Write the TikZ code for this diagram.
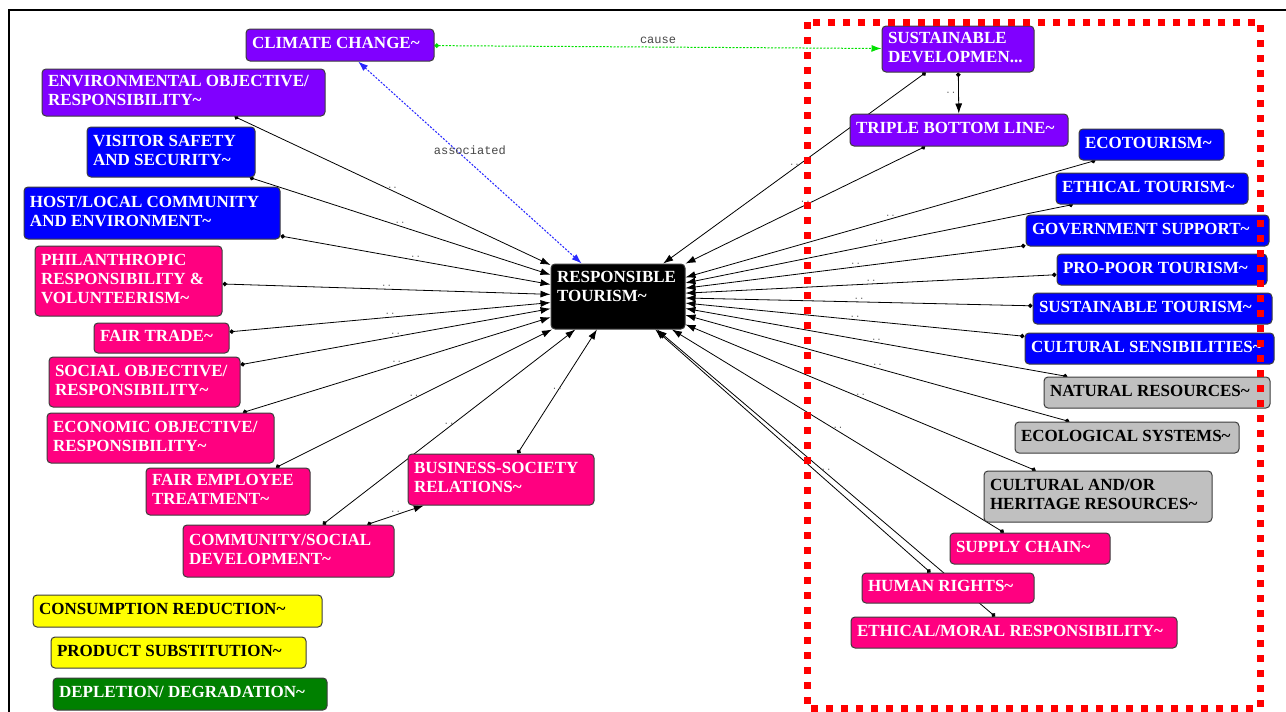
\documentclass[tikz,border=0pt]{standalone}
\usepackage{fontspec}
\setmainfont{Liberation Serif}
\setmonofont{Liberation Mono}
\usetikzlibrary{arrows.meta,backgrounds}

\definecolor{violetfill}{RGB}{128,0,255}
\definecolor{bluefill}{RGB}{0,0,255}
\definecolor{pinkfill}{RGB}{255,0,128}
\definecolor{grayfill}{RGB}{192,192,192}
\definecolor{yellowfill}{RGB}{255,255,0}
\definecolor{greenfill}{RGB}{0,128,0}
\definecolor{nodeline}{RGB}{60,60,60}
\definecolor{causegreen}{RGB}{0,225,0}
\definecolor{assocblue}{RGB}{40,40,255}
\definecolor{labelgray}{RGB}{70,70,70}
\definecolor{dotgray}{RGB}{100,100,100}

\newcommand{\tld}{\textasciitilde}
\newcommand{\boxtext}[2]{\makebox[#1][l]{\begin{tabular}{@{}l@{}}#2\end{tabular}}}

\begin{document}
\begin{tikzpicture}[x=1pt,y=-1pt,>={Latex[length=10pt,width=7pt]},
                    box/.style={draw=nodeline, line width=1pt, rounded corners=4pt,
                                inner xsep=6pt, inner ysep=0pt,
                                font=\bfseries\fontsize{17}{19}\selectfont},
                    violetbox/.style={box, fill=violetfill, text=white},
                    bluebox/.style={box, fill=bluefill, text=white},
                    pinkbox/.style={box, fill=pinkfill, text=white},
                    graybox/.style={box, fill=grayfill, text=black},
                    yellowbox/.style={box, fill=yellowfill, text=black},
                    greenbox/.style={box, fill=greenfill, text=white},
                    blackbox/.style={box, fill=black, text=white},
                    dep/.style={draw=black, line width=0.8pt, {Circle[length=4.5pt]}->},
                    lbl/.style={midway, above, inner sep=2pt, text=dotgray,
                                font=\ttfamily\fontsize{9}{9}\selectfont},
                    rel/.style={midway, above, inner sep=3pt, text=labelgray,
                                font=\ttfamily\fontsize{12}{12}\selectfont},
                    redbox/.style={draw=red, line width=7pt, dash pattern=on 7pt off 8pt}]
\useasboundingbox (0,0) rectangle (1286,712);
\draw[line width=1.5pt] (9,712) -- (9,10) -- (1286,10);

\node[violetbox, minimum height=32pt] (climate) at (340,45) {\boxtext{176pt}{CLIMATE CHANGE\tld}};
\node[violetbox, minimum height=47pt] (envobj) at (183.5,92.5) {\boxtext{271pt}{ENVIRONMENTAL OBJECTIVE/\\RESPONSIBILITY\tld}};
\node[bluebox, minimum height=50pt] (safety) at (171,152) {\boxtext{156pt}{VISITOR SAFETY\\AND SECURITY\tld}};
\node[bluebox, minimum height=52pt] (host) at (152,213) {\boxtext{244pt}{HOST/LOCAL COMMUNITY\\AND ENVIRONMENT\tld}};
\node[pinkbox, minimum height=70pt] (philan) at (128.5,281) {\boxtext{175pt}{PHILANTHROPIC\\RESPONSIBILITY \&\\VOLUNTEERISM\tld}};
\node[pinkbox, minimum height=30pt] (fairtrade) at (161.5,338) {\boxtext{123pt}{FAIR TRADE\tld}};
\node[pinkbox, minimum height=50pt] (socobj) at (144.5,382) {\boxtext{179pt}{SOCIAL OBJECTIVE/\\RESPONSIBILITY\tld}};
\node[pinkbox, minimum height=50pt] (econobj) at (160.5,438) {\boxtext{215pt}{ECONOMIC OBJECTIVE/\\RESPONSIBILITY\tld}};
\node[pinkbox, minimum height=47pt] (employee) at (228,491.5) {\boxtext{152pt}{FAIR EMPLOYEE\\TREATMENT\tld}};
\node[pinkbox, minimum height=52pt] (community) at (288.5,551) {\boxtext{199pt}{COMMUNITY/SOCIAL\\DEVELOPMENT\tld}};
\node[pinkbox, minimum height=51pt] (business) at (501,479.5) {\boxtext{174pt}{BUSINESS-SOCIETY\\RELATIONS\tld}};
\node[yellowbox, minimum height=32pt] (consump) at (177.5,611) {\boxtext{277pt}{CONSUMPTION REDUCTION\tld}};
\node[yellowbox, minimum height=31pt] (product) at (178.5,652.5) {\boxtext{243pt}{PRODUCT SUBSTITUTION\tld}};
\node[greenbox, minimum height=32pt] (depletion) at (190,694) {\boxtext{262pt}{DEPLETION/ DEGRADATION\tld}};
\node[blackbox, minimum height=65pt] (resp) at (618,296.5) {\boxtext{122pt}{RESPONSIBLE\\TOURISM\tld\\[17pt]}};
\node[violetbox, minimum height=46pt] (sustdev) at (958,49) {\boxtext{140pt}{SUSTAINABLE\\DEVELOPMEN...}};
\node[violetbox, minimum height=32pt] (tbl) at (959,130) {\boxtext{206pt}{TRIPLE BOTTOM LINE\tld}};
\node[bluebox, minimum height=31pt] (ecotour) at (1151.5,144.5) {\boxtext{133pt}{ECOTOURISM\tld}};
\node[bluebox, minimum height=31pt] (ethical) at (1152,188.5) {\boxtext{180pt}{ETHICAL TOURISM\tld}};
\node[bluebox, minimum height=31pt] (govt) at (1147.5,230.5) {\boxtext{231pt}{GOVERNMENT SUPPORT\tld}};
\node[bluebox, minimum height=31pt] (propoor) at (1162,269.5) {\boxtext{198pt}{PRO-POOR TOURISM\tld}};
\node[bluebox, minimum height=31pt] (susttour) at (1152.5,308.5) {\boxtext{227pt}{SUSTAINABLE TOURISM\tld}};
\node[bluebox, minimum height=31pt] (cultsens) at (1149.5,348.5) {\boxtext{237pt}{CULTURAL SENSIBILITIES\tld}};
\node[graybox, minimum height=31pt] (natres) at (1157,392.5) {\boxtext{214pt}{NATURAL RESOURCES\tld}};
\node[graybox, minimum height=31pt] (ecosys) at (1127,437.5) {\boxtext{212pt}{ECOLOGICAL SYSTEMS\tld}};
\node[graybox, minimum height=51pt] (heritage) at (1098,496.5) {\boxtext{216pt}{CULTURAL AND/OR\\HERITAGE RESOURCES\tld}};
\node[pinkbox, minimum height=31pt] (supply) at (1030,548.5) {\boxtext{148pt}{SUPPLY CHAIN\tld}};
\node[pinkbox, minimum height=30pt] (rights) at (948,588) {\boxtext{160pt}{HUMAN RIGHTS\tld}};
\node[pinkbox, minimum height=31pt] (moral) at (1014,632.5) {\boxtext{314pt}{ETHICAL/MORAL RESPONSIBILITY\tld}};

\begin{scope}[on background layer]
\draw[dep] (envobj) -- node[lbl] {..} (resp);
\draw[dep] (safety) -- node[lbl] {..} (resp);
\draw[dep] (host) -- node[lbl] {..} (resp);
\draw[dep] (philan) -- node[lbl] {..} (resp);
\draw[dep] (fairtrade) -- node[lbl] {..} (resp);
\draw[dep] (socobj) -- node[lbl] {..} (resp);
\draw[dep] (econobj) -- node[lbl] {..} (resp);
\draw[dep] (employee) -- node[lbl] {..} (resp);
\draw[dep] (community) -- node[lbl] {..} (resp);
\draw[dep] (community) -- node[lbl] {..} (business);
\draw[dep] (business) -- node[lbl] {..} (resp);
\draw[dep] (sustdev) -- node[lbl, left] {..} (tbl);
\draw[dep] (sustdev) -- node[lbl] {..} (resp);
\draw[dep] (tbl) -- node[lbl] {..} (resp);
\draw[dep] (ecotour) -- node[lbl] {..} (resp);
\draw[dep] (ethical) -- node[lbl] {..} (resp);
\draw[dep] (govt) -- node[lbl] {..} (resp);
\draw[dep] (propoor) -- node[lbl] {..} (resp);
\draw[dep] (susttour) -- node[lbl] {..} (resp);
\draw[dep] (cultsens) -- node[lbl] {..} (resp);
\draw[dep] (natres) -- node[lbl] {..} (resp);
\draw[dep] (ecosys) -- node[lbl] {..} (resp);
\draw[dep] (heritage) -- node[lbl] {..} (resp);
\draw[dep] (supply) -- node[lbl] {..} (resp);
\draw[dep] (rights) -- node[lbl] {..} (resp);
\draw[dep] (moral) -- node[lbl] {..} (resp);
\draw[draw=causegreen, line width=1pt, dash pattern=on 2pt off 1.5pt, {Circle[length=4.5pt]}->]
  (climate) -- node[rel] {cause} (sustdev);
\draw[draw=assocblue, line width=1pt, dash pattern=on 2pt off 1.5pt, <->]
  (climate) -- node[rel, above=4pt] {associated} (resp);
\end{scope}

\draw[redbox] (807,22) rectangle (1260,708);
\end{tikzpicture}
\end{document}
